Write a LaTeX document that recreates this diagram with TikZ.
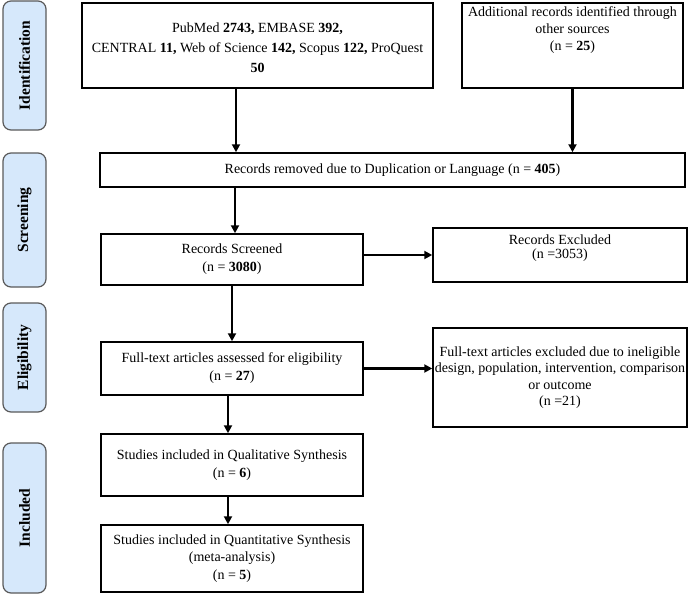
\documentclass[tikz,border=0pt]{standalone}
\usepackage{fontspec}
\setmainfont{Liberation Serif}
\usetikzlibrary{arrows.meta,calc}
\definecolor{lblfill}{RGB}{214,232,251}
\definecolor{lbldraw}{RGB}{90,90,90}
\tikzset{
  stage/.style={draw=lbldraw, line width=1.2pt, fill=lblfill, rounded corners=8pt,
    minimum width=43pt, inner sep=0pt},
  stagetext/.style={rotate=90, font=\fontsize{15.5}{18}\selectfont\bfseries},
  box/.style={draw=black, line width=1.5pt, inner sep=0pt, align=center,
    font=\fontsize{14}{18}\selectfont},
  btext/.style={align=center, inner sep=0pt, font=\fontsize{14}{17}\selectfont},
  arr/.style={line width=2.2pt, -{Triangle[width=8pt,length=8pt]}}
}
\begin{document}
\begin{tikzpicture}[x=1pt,y=-1pt]
\useasboundingbox (0,0) rectangle (688,594);
% stage labels
\node[stage, minimum height=129pt] (s1) at (24.5,65.5) {};
\node[stagetext] (s1t) at (s1.center) {Identification};
\node[stage, minimum height=134pt] (s2) at (24.5,220) {};
\node[stagetext] (s2t) at (s2.center) {Screening};
\node[stage, minimum height=109pt] (s3) at (24.5,357.5) {};
\node[stagetext] (s3t) at (s3.center) {Eligibility};
\node[stage, minimum height=150pt] (s4) at (24.5,518) {};
\node[stagetext] (s4t) at (s4.center) {Included};
% boxes
\node[box, minimum width=351pt, minimum height=85pt] (A) at (257.5,45.5) {};
\node[btext, font=\fontsize{14}{20}\selectfont] (At) at (257.5,48)
  {PubMed \textbf{2743,} EMBASE \textbf{392,}\\ CENTRAL \textbf{11,} Web of Science \textbf{142,} Scopus \textbf{122,} ProQuest\\ \textbf{50}};
\node[box, minimum width=221pt, minimum height=85pt] (B) at (572.5,45.5) {};
\node[btext] (Bt) at (572.5,30) {Additional records identified through\\ other sources\\ (n = \textbf{25})};
\node[box, minimum width=585pt, minimum height=34pt] (C) at (392.5,170)
  {Records removed due to Duplication or Language (n = \textbf{405})};
\node[box, minimum width=262pt, minimum height=51pt] (D) at (232,259.5)
  {Records Screened\\ (n = \textbf{3080})};
\node[box, minimum width=254pt, minimum height=54pt] (E) at (560,255) {};
\node[btext, font=\fontsize{14}{14}\selectfont] (Et) at (560,248) {Records Excluded\\ (n =3053)};
\node[box, minimum width=262pt, minimum height=53pt] (F) at (232,368.5)
  {Full-text articles assessed for eligibility\\ (n = \textbf{27})};
\node[box, minimum width=254pt, minimum height=99pt, font=\fontsize{14}{16.5}\selectfont] (G) at (560,377.5)
  {Full-text articles excluded due to ineligible\\ design, population, intervention, comparison\\ or outcome\\ (n =21)};
\node[box, minimum width=262pt, minimum height=62pt] (H) at (232,465)
  {Studies included in Qualitative Synthesis\\ (n = \textbf{6})};
\node[box, minimum width=262pt, minimum height=67pt, font=\fontsize{14}{17.5}\selectfont] (I) at (232,558.5)
  {Studies included in Quantitative Synthesis\\ (meta-analysis)\\ (n = \textbf{5})};
% arrows
\draw[arr] ([xshift=-21.5pt]A.south) -- ([xshift=-21.5pt]A.south |- C.north);
\draw[arr] (B.south) -- (B.south |- C.north);
\draw[arr] ([xshift=3pt]D.north |- C.south) -- ([xshift=3pt]D.north);
\draw[arr] ([yshift=4.5pt]D.east) -- ([yshift=4.5pt]D.east -| E.west);
\draw[arr] (D.south) -- (F.north);
\draw[arr] (F.east) -- (F.east -| G.west);
\draw[arr] ([xshift=-4pt]F.south) -- ([xshift=-4pt]H.north);
\draw[arr] ([xshift=-4pt]H.south) -- ([xshift=-4pt]I.north);
\end{tikzpicture}
\end{document}
